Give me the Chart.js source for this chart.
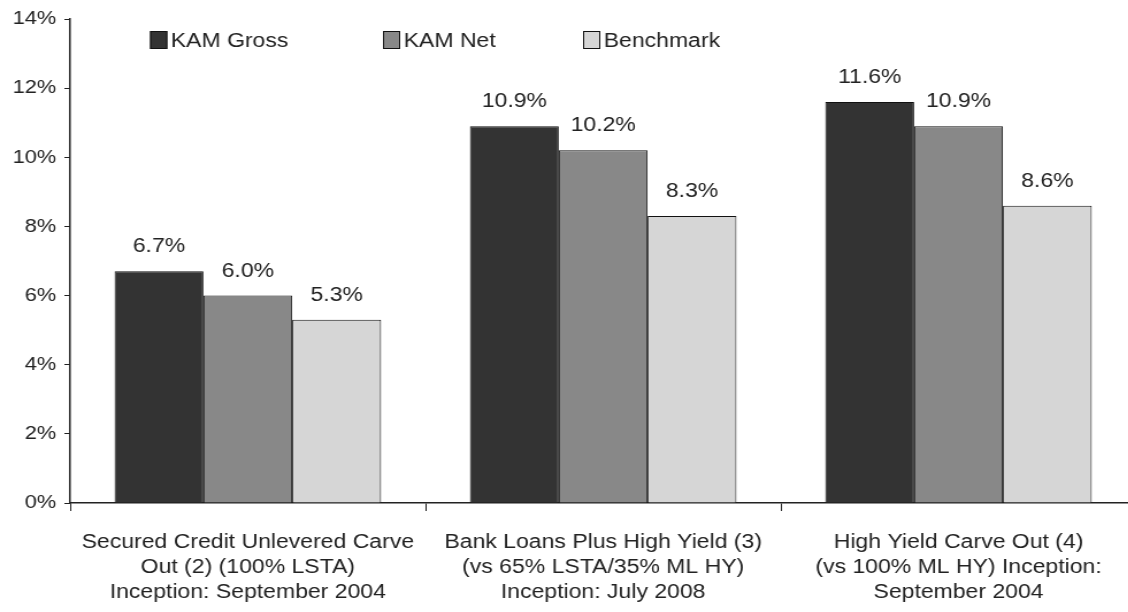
<!DOCTYPE html>
<html>
<head>
<meta charset="utf-8">
<script src="https://cdn.jsdelivr.net/npm/chart.js@4/dist/chart.umd.min.js"></script>
<style>
  html, body { margin: 0; padding: 0; background: #fff; overflow: hidden; width: 1128px; height: 612px; }
  /* the source picture is a little stretched sideways, so the whole chart is too */
  #wrap { width: 992px; height: 612px; transform: scaleX(1.15); transform-origin: 0 0; }
</style>
</head>
<body>
<div id="wrap"><canvas id="myChart" width="992" height="612"></canvas></div>
<script>
var categories = [
  ['Secured Credit Unlevered Carve', 'Out (2) (100% LSTA)', 'Inception: September 2004'],
  ['Bank Loans Plus High Yield (3)', '(vs 65% LSTA/35% ML HY)', 'Inception: July 2008'],
  ['High Yield Carve Out (4)', '(vs 100% ML HY) Inception:', 'September 2004']
];
var kamGross  = [6.7, 10.9, 11.6];
var kamNet    = [6.0, 10.2, 10.9];
var benchmark = [5.3, 8.3, 8.6];
var seriesNames = ['KAM Gross', 'KAM Net', 'Benchmark'];

var FONT = '"Liberation Sans", Arial, sans-serif';

// value above each bar
var valueLabels = {
  id: 'valueLabels',
  afterDatasetsDraw: function(chart) {
    var ctx = chart.ctx;
    ctx.save();
    ctx.font = '20px ' + FONT;
    ctx.fillStyle = '#222';
    ctx.textAlign = 'center';
    ctx.textBaseline = 'alphabetic';
    chart.data.datasets.forEach(function(ds, i) {
      chart.getDatasetMeta(i).data.forEach(function(bar, j) {
        ctx.fillText(ds.data[j].toFixed(1) + '%', bar.x, bar.y - 19);
      });
    });
    ctx.restore();
  }
};

// legend drawn inside the plot, like the original
var innerLegend = {
  id: 'innerLegend',
  afterDraw: function(chart) {
    var ctx = chart.ctx;
    var xs = [130.5, 333, 507];
    var y = 40;
    ctx.save();
    ctx.font = '20px ' + FONT;
    ctx.textBaseline = 'middle';
    chart.data.datasets.forEach(function(ds, i) {
      ctx.fillStyle = ds.backgroundColor;
      ctx.fillRect(xs[i], y - 9, 15, 18);
      ctx.strokeStyle = '#111';
      ctx.lineWidth = 1;
      ctx.strokeRect(xs[i] + 0.5, y - 8.5, 14, 17);
      ctx.fillStyle = '#222';
      ctx.fillText(ds.label, xs[i] + 18, y + 1);
    });
    ctx.restore();
  }
};

var ctx = document.getElementById('myChart');
var myChart = new Chart(ctx, {
  type: 'bar',
  data: {
    labels: categories,
    datasets: [
      { label: seriesNames[0], data: kamGross,  backgroundColor: '#333333' },
      { label: seriesNames[1], data: kamNet,    backgroundColor: '#888888' },
      { label: seriesNames[2], data: benchmark, backgroundColor: '#d6d6d6' }
    ]
  },
  options: {
    responsive: false,
    animation: false,
    layout: { padding: { top: 19, right: 4, left: 0, bottom: 0 } },
    datasets: {
      bar: {
        categoryPercentage: 0.75,
        barPercentage: 1.0,
        borderColor: '#111',
        borderWidth: 1
      }
    },
    plugins: {
      legend: { display: false },
      tooltip: { enabled: false }
    },
    scales: {
      x: {
        offset: true,
        grid: {
          offset: true,
          drawOnChartArea: false,
          drawTicks: true,
          tickLength: 8,
          color: '#222'
        },
        border: { display: true, color: '#222', width: 1.5 },
        ticks: {
          color: '#222',
          font: { family: FONT, size: 20, lineHeight: 1.25 },
          padding: 19,
          maxRotation: 0,
          autoSkip: false
        },
        afterFit: function(scale) { scale.height = 109; }
      },
      y: {
        min: 0,
        max: 14,
        grid: {
          drawOnChartArea: false,
          drawTicks: true,
          tickLength: 5,
          color: '#222'
        },
        border: { display: true, color: '#222', width: 1.5 },
        ticks: {
          stepSize: 2,
          color: '#222',
          font: { family: FONT, size: 19 },
          padding: 7,
          callback: function(v) { return v + '%'; }
        },
        afterFit: function(scale) { scale.width = 61; }
      }
    }
  },
  plugins: [valueLabels, innerLegend]
});
</script>
</body>
</html>
